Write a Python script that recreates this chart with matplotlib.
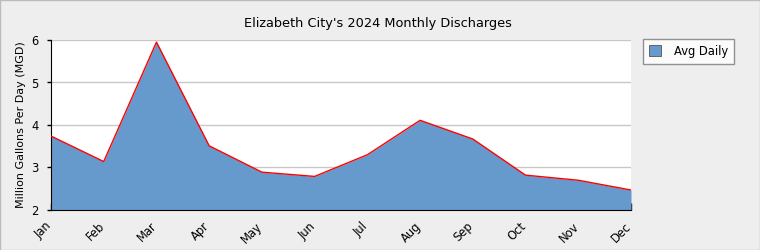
import matplotlib.pyplot as plt
import matplotlib.patches as mpatches
import matplotlib.transforms as mtransforms

months = ['Jan', 'Feb', 'Mar', 'Apr', 'May', 'Jun', 'Jul', 'Aug', 'Sep', 'Oct', 'Nov', 'Dec']
avg_daily = [3.74, 3.14, 5.95, 3.51, 2.89, 2.79, 3.30, 4.11, 3.67, 2.82, 2.70, 2.47]

bg = '#eeeeee'
fig = plt.figure(figsize=(7.6, 2.5), dpi=100, facecolor=bg)
fig.patches.append(mpatches.Rectangle((0, 0), 1, 1, transform=fig.transFigure,
                                      fill=False, edgecolor='#bbbbbb', linewidth=1))
ax = fig.add_axes([51 / 760, 40 / 250, 580 / 760, 170 / 250])

x = list(range(len(months)))
ax.fill_between(x, 2, avg_daily, color='#6699cc', linewidth=0, zorder=2)
ax.plot(x, avg_daily, color='red', linewidth=1, zorder=3)

ax.set_xlim(0, len(months) - 1)
ax.set_ylim(2, 6)
ax.set_yticks([2, 3, 4, 5, 6])
ax.set_xticks(x)
ax.set_xticklabels(months, rotation=45, ha='right', rotation_mode='anchor', fontsize=8.3)
ax.tick_params(axis='x', direction='in', length=5, width=1, pad=7)
ax.tick_params(axis='y', direction='out', length=3, width=1, labelsize=8.3, pad=6)
shift = mtransforms.ScaledTranslation(-6 / 100, 0, fig.dpi_scale_trans)
for lbl in ax.get_xticklabels():
    lbl.set_transform(lbl.get_transform() + shift)
ax.grid(axis='y', color='#c8c8c8', linewidth=1, zorder=0)
ax.set_axisbelow(True)
for s in ['top', 'right']:
    ax.spines[s].set_visible(False)

ax.set_ylabel('Million Gallons Per Day (MGD)', fontsize=8, labelpad=4)
fig.text(378 / 760, 1 - 24 / 250, "Elizabeth City's 2024 Monthly Discharges",
         ha='center', va='center', fontsize=9.3)

handle = mpatches.Patch(facecolor='#6699cc', edgecolor='#555555', linewidth=0.6, label='Avg Daily')
leg = fig.legend(handles=[handle], loc='upper left', bbox_to_anchor=(643 / 760, 1 - 39 / 250),
                 borderaxespad=0, fontsize=8.3, frameon=True, fancybox=False,
                 handlelength=1.1, handleheight=1.1, borderpad=0.5, handletextpad=1.1)
leg.get_frame().set_edgecolor('#777777')
leg.get_frame().set_linewidth(1)
leg.get_frame().set_facecolor('white')

fig.savefig('out.png', dpi=100, facecolor=bg)
